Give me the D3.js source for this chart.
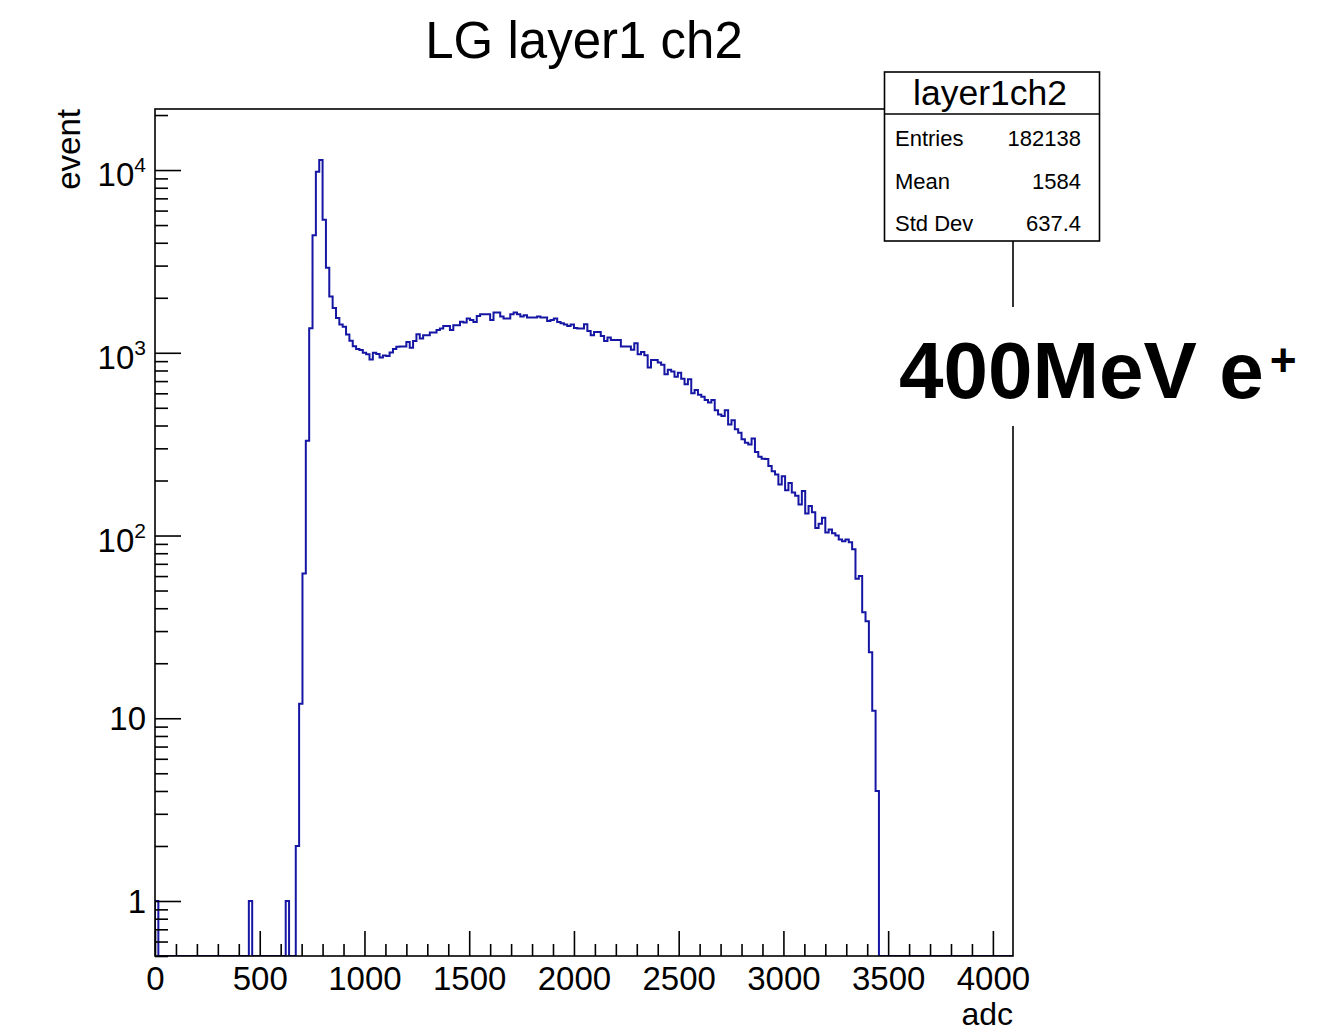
<!DOCTYPE html>
<html>
<head>
<meta charset="utf-8">
<script src="https://cdn.jsdelivr.net/npm/d3@7"></script>
<style>
  body { margin: 0; background: #fff; }
  text { font-family: "Liberation Sans", Arial, Helvetica, sans-serif; fill: #000; }
</style>
</head>
<body>
<div id="container"></div>
<script>
/* CONSTANTS AND GLOBALS */
const width = 1327,
  height = 1033,
  frame = { left: 155, right: 1013, top: 109, bottom: 956 };

/* DATA */
const binWidth = 16, nBins = 256;          // 0 .. 4096 adc
const firstBin = 42;                        // counts below start at bin 42 (adc 672)
const counts = [
  2, 12, 62, 330, 1362, 4400, 9800, 11350, 5340, 2920,
  2030, 1760, 1550, 1430, 1390, 1260, 1165, 1085, 1050, 1035,
  1000, 983, 920, 1000, 985, 941, 965, 960, 1005, 1050,
  1078, 1081, 1081, 1146, 1067, 1161, 1263, 1196, 1247, 1247,
  1290, 1290, 1334, 1357, 1403, 1403, 1334, 1415, 1415, 1480,
  1463, 1539, 1513, 1475, 1591, 1625, 1625, 1625, 1513, 1660,
  1660, 1578, 1539, 1539, 1625, 1660, 1625, 1578, 1604, 1558,
  1558, 1558, 1578, 1558, 1558, 1494, 1513, 1539, 1475, 1451,
  1427, 1403, 1427, 1368, 1357, 1357, 1433, 1317, 1247, 1301,
  1301, 1236, 1161, 1211, 1175, 1175, 1175, 1081, 1081, 1081,
  1040, 1127, 981, 1010, 969, 830, 913, 913, 884, 860,
  762, 808, 790, 740, 778, 722, 672, 716, 600, 626,
  590, 575, 552, 535, 552, 484, 460, 451, 484, 405,
  428, 381, 365, 336, 322, 315, 340, 286, 270, 263,
  262, 240, 225, 216, 190, 211, 177, 194, 172, 165,
  148, 175, 132, 145, 134, 110, 116, 125, 104, 108,
  103, 100, 95, 93, 95, 92, 84, 58, 60, 38,
  34, 23, 11, 4
];
const strayBins = [0, 28, 39];               // isolated single entries
const strayCounts = [1, 1, 1];

const xMajor = d3.range(0, 4001, 500);
const xMinor = d3.range(0, 4001, 100).filter(v => v % 500 !== 0);
const yMajor = [1, 10, 100, 1000, 10000];
const yLabels = [["1", ""], ["10", ""], ["10", "2"], ["10", "3"], ["10", "4"]];
const statNames = ["Entries", "Mean", "Std Dev"];
const statValues = ["182138", "1584", "637.4"];

// full histogram
const hist = new Array(nBins).fill(0);
counts.forEach((c, i) => hist[firstBin + i] = c);
strayBins.forEach((b, i) => hist[b] = strayCounts[i]);

const svg = d3.select("#container")
  .append("svg")
  .attr("width", width)
  .attr("height", height)
  .style("background-color", "#fff");

/* SCALES */
const xScale = d3.scaleLinear().domain([0, 4096]).range([frame.left, frame.right]);
const yMin = 0.5;
const yScale = d3.scaleLog().domain([yMin, 21580]).range([frame.bottom, frame.top]);

// clip to frame
svg.append("clipPath").attr("id", "clip")
  .append("rect")
  .attr("x", frame.left).attr("y", frame.top)
  .attr("width", frame.right - frame.left).attr("height", frame.bottom - frame.top);

/* HISTOGRAM */
const pts = [[0, yMin]];
hist.forEach((v, i) => pts.push([i * binWidth, v > 0 ? v : yMin]));
pts.push([nBins * binWidth, hist[nBins - 1] > 0 ? hist[nBins - 1] : yMin]);

const line = d3.line()
  .x(d => xScale(d[0]))
  .y(d => yScale(Math.max(d[1], yMin)))
  .curve(d3.curveStepAfter);

svg.append("path")
  .datum(pts)
  .attr("clip-path", "url(#clip)")
  .attr("fill", "none")
  .attr("stroke", "#1616a4")
  .attr("stroke-width", 2)
  .attr("d", line);

/* AXES */
const xMajAxis = svg.append("g")
  .attr("transform", `translate(0,${frame.bottom})`)
  .call(d3.axisBottom(xScale).tickValues(xMajor).tickSize(-25).tickSizeOuter(0)
    .tickPadding(11).tickFormat(d3.format("d")));
xMajAxis.selectAll("text").style("font-size", "33px");

svg.append("g")
  .attr("transform", `translate(0,${frame.bottom})`)
  .call(d3.axisBottom(xScale).tickValues(xMinor).tickSize(-12).tickSizeOuter(0).tickFormat(""));

const yMinorVals = [];
[-1, 0, 1, 2, 3, 4].forEach(p => {
  for (let k = 2; k <= 9; k++) {
    const v = k * Math.pow(10, p);
    if (v >= yMin && v <= 21580) yMinorVals.push(v);
  }
});

svg.append("g")
  .attr("transform", `translate(${frame.left},0)`)
  .call(d3.axisLeft(yScale).tickValues(yMajor).tickSize(-26).tickSizeOuter(0).tickFormat(""));
svg.append("g")
  .attr("transform", `translate(${frame.left},0)`)
  .call(d3.axisLeft(yScale).tickValues(yMinorVals).tickSize(-13).tickSizeOuter(0).tickFormat(""));

svg.selectAll(".domain").remove();
svg.selectAll(".tick line").attr("stroke", "#000").attr("stroke-width", 1.6);

// y tick labels with superscripts
yMajor.forEach((v, i) => {
  const lab = yLabels[i];
  const t = svg.append("text")
    .attr("text-anchor", "end")
    .attr("x", 146)
    .attr("y", yScale(v) + (lab[1] ? 16 : 12))
    .style("font-size", "33px")
    .text(lab[0]);
  if (lab[1]) {
    t.append("tspan")
      .attr("dy", -14)
      .style("font-size", "21px")
      .text(lab[1]);
  }
});

// frame
svg.append("rect")
  .attr("x", frame.left).attr("y", frame.top)
  .attr("width", frame.right - frame.left).attr("height", frame.bottom - frame.top)
  .attr("fill", "none").attr("stroke", "#000").attr("stroke-width", 1.6);

/* TITLES */
svg.append("text")
  .attr("text-anchor", "middle")
  .attr("x", 584).attr("y", 58)
  .style("font-size", "51px")
  .text("LG layer1 ch2");

svg.append("text")
  .attr("text-anchor", "end")
  .attr("x", frame.right).attr("y", 1025)
  .style("font-size", "32px")
  .text("adc");

svg.append("text")
  .attr("text-anchor", "end")
  .attr("transform", "rotate(-90)")
  .attr("x", -frame.top).attr("y", 80)
  .style("font-size", "33px")
  .text("event");

/* STATS BOX */
const box = { x: 884.5, y: 72, w: 215, h: 169, head: 42 };
svg.append("rect")
  .attr("x", box.x).attr("y", box.y).attr("width", box.w).attr("height", box.h)
  .attr("fill", "#fff").attr("stroke", "#000").attr("stroke-width", 1.6);
svg.append("line")
  .attr("x1", box.x).attr("x2", box.x + box.w)
  .attr("y1", box.y + box.head).attr("y2", box.y + box.head)
  .attr("stroke", "#000").attr("stroke-width", 1.6);
svg.append("text")
  .attr("text-anchor", "middle")
  .attr("x", box.x + box.w / 2 - 2).attr("y", 105)
  .style("font-size", "35.5px")
  .text("layer1ch2");

statNames.forEach((name, i) => {
  const yy = 146 + i * 42.5;
  svg.append("text").attr("x", 895).attr("y", yy).style("font-size", "22px").text(name);
  svg.append("text").attr("text-anchor", "end").attr("x", 1081).attr("y", yy)
    .style("font-size", "22px").text(statValues[i]);
});

/* BEAM LABEL */
svg.append("rect")
  .attr("x", 895).attr("y", 307).attr("width", 412).attr("height", 119)
  .attr("fill", "#fff");
const beam = svg.append("text")
  .attr("x", 899).attr("y", 398)
  .style("font-size", "80px")
  .style("font-weight", "bold")
  .text("400MeV e");
beam.append("tspan")
  .attr("dx", 6)
  .attr("dy", -22)
  .style("font-size", "46px")
  .text("+");
</script>
</body>
</html>
